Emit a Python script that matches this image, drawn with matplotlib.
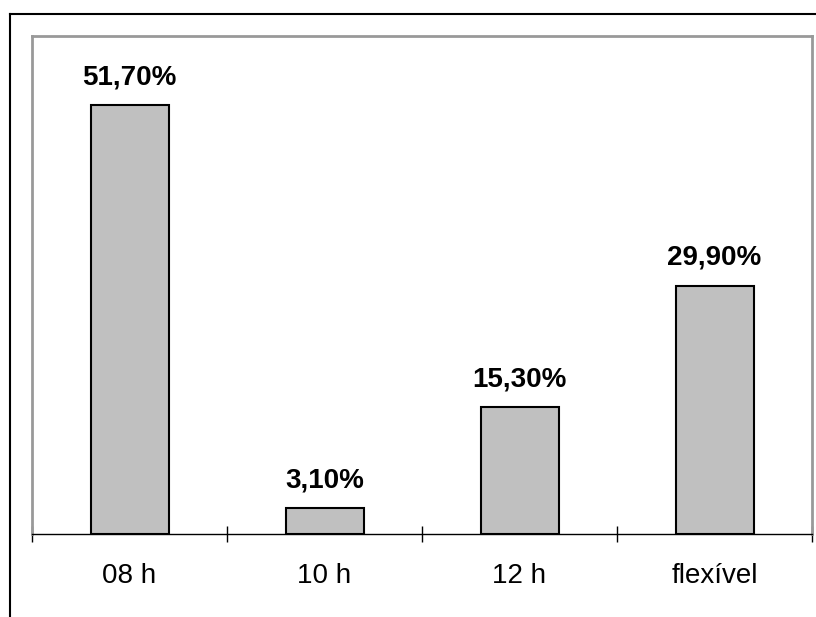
import numpy as np
import matplotlib.pyplot as plt
from matplotlib.lines import Line2D

# data
categories = ['08 h', '10 h', '12 h', 'flexível']
values = [51.7, 3.1, 15.3, 29.9]
labels = ['51,70%', '3,10%', '15,30%', '29,90%']

plt.rcParams['font.family'] = ['Liberation Sans', 'DejaVu Sans']

W, H = 816, 617
fig = plt.figure(figsize=(W / 100, H / 100), dpi=100)
ax = fig.add_axes([32 / W, 1 - 534 / H, (812 - 32) / W, (534 - 36) / H])

x = np.arange(len(categories))
bars = ax.bar(x, values, width=0.4, color='#c0c0c0', edgecolor='black', linewidth=1.5)

for xi, v, lab in zip(x, values, labels):
    ax.annotate(lab, (xi, v), xytext=(0, 15), textcoords='offset points',
                ha='center', va='baseline', fontsize=20, fontweight='bold')

ax.set_xlim(-0.5, len(categories) - 0.5)
ax.set_ylim(0, 60)
ax.set_yticks([])

# ticks at category boundaries, labels at centres
ax.set_xticks(np.arange(len(categories) + 1) - 0.5)
ax.set_xticklabels([])
ax.set_xticks(x, minor=True)
ax.set_xticklabels(categories, minor=True, fontsize=20)
ax.tick_params(axis='x', which='major', direction='inout', length=12, width=1, color='black')
ax.tick_params(axis='x', which='minor', length=0, pad=21)

for side in ['left', 'top', 'right']:
    ax.spines[side].set_color('#999999')
    ax.spines[side].set_linewidth(2)
ax.spines['bottom'].set_color('black')
ax.spines['bottom'].set_linewidth(1)

# outer frame (only top and left show in the crop)
fx = 10 / W
fy = 1 - 14 / H
fig.add_artist(Line2D([fx, fx], [0, fy], color='black', linewidth=1.5, transform=fig.transFigure))
fig.add_artist(Line2D([fx, 1], [fy, fy], color='black', linewidth=1.5, transform=fig.transFigure))

fig.savefig('out.png', dpi=100)
